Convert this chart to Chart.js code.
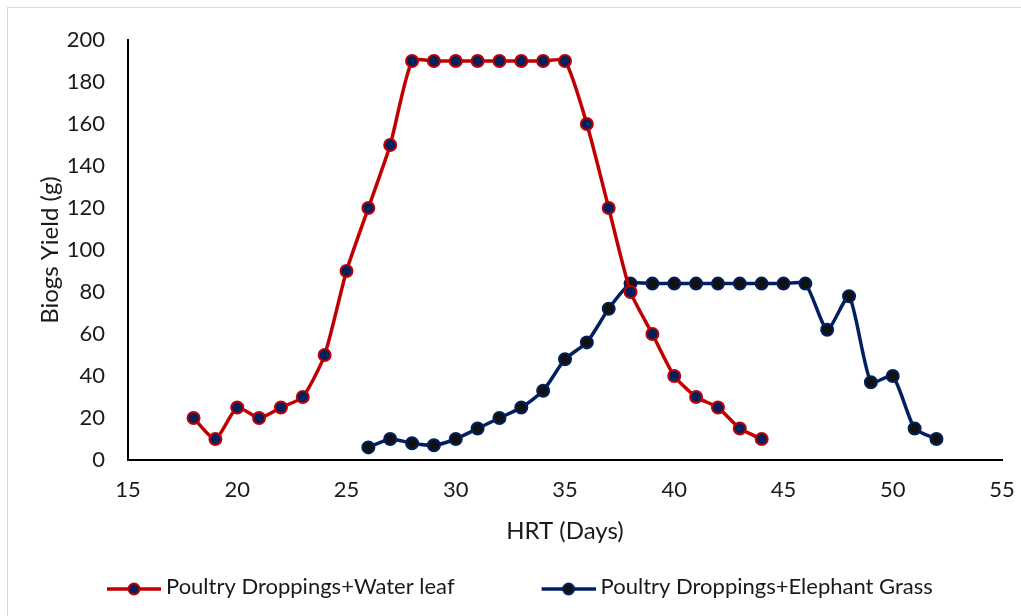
<!DOCTYPE html>
<html>
<head>
<meta charset="utf-8">
<script src="https://cdn.jsdelivr.net/npm/chart.js@4"></script>
<style>
  html, body { margin: 0; padding: 0; background: #fff; }
  #wrap { position: relative; width: 1021px; height: 616px; }
  #frame { position: absolute; left: 7px; top: 7px; width: 1020px; height: 620px; border: 1px solid #d9d9d9; box-sizing: border-box; pointer-events: none; }
</style>
</head>
<body>
<div id="wrap">
  <canvas id="chart" width="1021" height="616"></canvas>
  <div id="frame"></div>
</div>
<script>
const waterLeafDays = [18, 19, 20, 21, 22, 23, 24, 25, 26, 27, 28, 29, 30, 31, 32, 33, 34, 35, 36, 37, 38, 39, 40, 41, 42, 43, 44];
const waterLeafYield = [20, 10, 25, 20, 25, 30, 50, 90, 120, 150, 190, 190, 190, 190, 190, 190, 190, 190, 160, 120, 80, 60, 40, 30, 25, 15, 10];

const grassDays = [26, 27, 28, 29, 30, 31, 32, 33, 34, 35, 36, 37, 38, 39, 40, 41, 42, 43, 44, 45, 46, 47, 48, 49, 50, 51, 52];
const grassYield = [6, 10, 8, 7, 10, 15, 20, 25, 33, 48, 56, 72, 84, 84, 84, 84, 84, 84, 84, 84, 84, 62, 78, 37, 40, 15, 10];

const xTicks = [15, 20, 25, 30, 35, 40, 45, 50, 55];
const yTicks = [0, 20, 40, 60, 80, 100, 120, 140, 160, 180, 200];

const seriesNames = ['Poultry Droppings+Water leaf', 'Poultry Droppings+Elephant Grass'];

const RED = '#C00000';
const NAVY = '#002060';
const FONT = 'Lato, "Open Sans", sans-serif';
const TEXT = '#1a1a1a';

const BOX_W = 80; // legend box slot, mark sits at its right end

function toPoints(xs, ys) {
    var pts = [];
    for (let i = 0; i < xs.length; i++) {
        pts.push({ x: xs[i], y: ys[i] });
    }
    return pts;
}

// line+marker picture for the legend; drawn centred on the box slot,
// so the visible mark is pushed to the right end of a wider canvas
function legendMark(lineColor, fillColor, borderColor) {
    const c = document.createElement('canvas');
    c.width = BOX_W + 12;
    c.height = 20;
    const g = c.getContext('2d');
    const x0 = c.width - 54;
    g.strokeStyle = lineColor;
    g.lineWidth = 3.5;
    g.beginPath();
    g.moveTo(x0, 12);
    g.lineTo(x0 + 54, 12);
    g.stroke();
    g.beginPath();
    g.arc(x0 + 27, 12, 5.5, 0, Math.PI * 2);
    g.fillStyle = fillColor;
    g.fill();
    g.lineWidth = 2;
    g.strokeStyle = borderColor;
    g.stroke();
    return c;
}

const marks = [legendMark(RED, NAVY, RED), legendMark(NAVY, '#111111', NAVY)];

const config = {
    type: 'line',
    data: {
        datasets: [
            {
                label: seriesNames[0],
                data: toPoints(waterLeafDays, waterLeafYield),
                borderColor: RED,
                borderWidth: 3.5,
                backgroundColor: NAVY,
                pointBackgroundColor: NAVY,
                pointBorderColor: RED,
                pointBorderWidth: 2,
                pointRadius: 6,
                tension: 0.2,
            },
            {
                label: seriesNames[1],
                data: toPoints(grassDays, grassYield),
                borderColor: NAVY,
                borderWidth: 3.5,
                backgroundColor: '#111111',
                pointBackgroundColor: '#111111',
                pointBorderColor: NAVY,
                pointBorderWidth: 2,
                pointRadius: 6,
                tension: 0.2,
            },
        ]
    },
    options: {
        responsive: false,
        animation: false,
        layout: { padding: { left: 20, right: 19, top: 40, bottom: 8 } },
        plugins: {
            tooltip: { enabled: false },
            legend: {
                position: 'bottom',
                align: 'start',
                labels: {
                    usePointStyle: true,
                    pointStyleWidth: BOX_W,
                    padding: 55,
                    color: TEXT,
                    font: { family: FONT, size: 22 },
                    generateLabels: (chart) => chart.data.datasets.map((ds, i) => ({
                        text: ds.label,
                        pointStyle: marks[i],
                        fillStyle: 'transparent',
                        strokeStyle: 'transparent',
                        lineWidth: 0,
                        fontColor: TEXT,
                        datasetIndex: i,
                    })),
                },
            },
        },
        scales: {
            x: {
                type: 'linear',
                min: 15,
                max: 55,
                afterBuildTicks: (scale) => { scale.ticks = xTicks.map(v => ({ value: v })); },
                grid: { display: false, drawTicks: false },
                border: { display: true, color: '#000', width: 2 },
                ticks: { color: TEXT, font: { family: FONT, size: 22 }, padding: 17 },
                title: {
                    display: true,
                    text: 'HRT (Days)',
                    color: TEXT,
                    font: { family: FONT, size: 24 },
                    padding: { top: 0, bottom: -25 },
                },
                afterFit: (scale) => {
                    scale.height = 61;
                    scale.paddingLeft = 0;
                    scale.paddingRight = 0;
                },
            },
            y: {
                min: 0,
                max: 200,
                afterBuildTicks: (scale) => { scale.ticks = yTicks.map(v => ({ value: v })); },
                grid: { display: false, drawTicks: false },
                border: { display: true, color: '#000', width: 2 },
                ticks: { color: TEXT, font: { family: FONT, size: 22 }, padding: 23 },
                title: {
                    display: true,
                    text: 'Biogs Yield (g)',
                    color: TEXT,
                    font: { family: FONT, size: 24 },
                    padding: { top: 16, bottom: 0 },
                },
                afterFit: (scale) => { scale.width = 108; },
            },
        },
    },
};

new Chart(document.getElementById('chart'), config);
</script>
</body>
</html>
